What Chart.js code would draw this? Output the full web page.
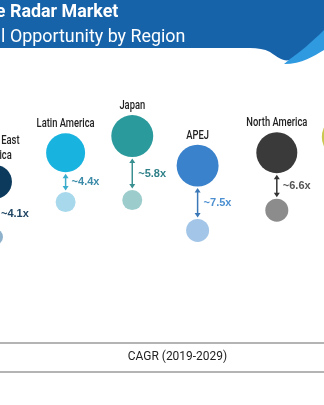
<!DOCTYPE html>
<html>
<head>
<meta charset="utf-8">
<script src="https://cdn.jsdelivr.net/npm/chart.js@4.4.1/dist/chart.umd.min.js"></script>
<style>
  html, body { margin: 0; padding: 0; background: #fff; }
  #wrap { position: relative; width: 324px; height: 405px; overflow: hidden; }
  #chart { position: absolute; left: 0; top: 0; }
  #head { position: absolute; left: 0; top: 0; }
  .title { position: absolute; left: 10px; color: #fff; white-space: nowrap; transform-origin: 0 0;
           font-family: Roboto, "Liberation Sans", sans-serif; font-size: 19px; line-height: 20px; }
  .title .cut { position: absolute; right: 100%; margin-right: 5px; }
  #t1 { top: 1px; font-weight: bold; transform: scaleX(0.94); }
  #t2 { top: 26px; transform: scaleX(0.94); }
  .rule { position: absolute; left: 0; width: 324px; height: 2px; background: #b4b4b4; }
  #axisTitle { position: absolute; left: 0; width: 355px; top: 348px; text-align: center;
               font-family: Roboto, "Liberation Sans", sans-serif; font-size: 13px; color: #222;
               transform: scaleX(0.92); transform-origin: 177px 0; }
</style>
</head>
<body>
<div id="wrap">
  <canvas id="chart" width="324" height="405"></canvas>
  <svg id="head" width="324" height="66">
    <path d="M0 0 H324 V40 C312 46 300 54 292 59 C285 63 279 58 270 52 C264 49 258 48 250 48 H0 Z" fill="#1763a9"/>
    <path d="M284 64 C302 64 314 56 324 50 V30 C312 42 300 52 290 59 Z" fill="#2f9ae0"/>
  </svg>
  <div class="title" id="t1"><span class="cut">e</span>Radar Market</div>
  <div class="title" id="t2"><span class="cut">l</span>Opportunity by Region</div>
  <div class="rule" style="top:342px"></div>
  <div id="axisTitle">CAGR (2019-2029)</div>
  <div class="rule" style="top:371px"></div>
</div>
<script>
// data
var regions = [['Middle East', '& Africa'], ['Latin America'], ['Japan'], ['APEJ'], ['North America'], ['Europe']];
var multiples = [4.1, 4.4, 5.8, 7.5, 6.6, null];
var size2029 = [72, 95, 110, 110, 105, 110];
var size2019 = [16, 25, 25, 33, 33, 25];

// layout of the infographic (in scale units)
var colX = [0, 1.07, 2.08, 3.07, 4.27, 5.27];
var rowBig = [4.49, 3.77, 3.36, 4.09, 3.77, 3.38];
var rowSmall = [5.85, 4.99, 4.94, 5.69, 5.19, 4.94];

var bigColors = ['#0c3a5c', '#19b3e0', '#2a9a9c', '#3a82cc', '#3a3a3a', '#c8c850'];
var smallColors = ['#8fb2cc', '#a8d8ec', '#9ccccc', '#a3c6e8', '#8c8c8c', '#e0e0a8'];
var arrowColors = ['#1f4563', '#3aaccc', '#3a9090', '#3a78b8', '#333333', '#999933'];
var textColors = ['#1f4563', '#3a8aa8', '#2f8088', '#4b8fd0', '#555555', '#888833'];

function radius(v) { return 2 * Math.sqrt(v); }

var bigData = regions.map(function (r, i) { return { x: colX[i], y: rowBig[i], r: radius(size2029[i]) }; });
var smallData = regions.map(function (r, i) { return { x: colX[i], y: rowSmall[i], r: radius(size2019[i]) }; });

function arrowHead(ctx, x, y, dir) {
  ctx.beginPath();
  ctx.moveTo(x, y);
  ctx.lineTo(x - 3, y + dir * 4.5);
  ctx.lineTo(x + 3, y + dir * 4.5);
  ctx.closePath();
  ctx.fill();
}

// narrow text: squeeze horizontally around x
function narrowText(ctx, text, x, y, sx) {
  ctx.save();
  ctx.translate(x, y);
  ctx.scale(sx, 1);
  ctx.fillText(text, 0, 0);
  ctx.restore();
}

var annotate = {
  id: 'annotate',
  afterDatasetsDraw: function (chart) {
    var ctx = chart.ctx;
    var big = chart.getDatasetMeta(0).data;
    var small = chart.getDatasetMeta(1).data;
    ctx.save();
    regions.forEach(function (lines, i) {
      var b = big[i], s = small[i];
      var rb = b.options.radius, rs = s.options.radius;
      // region name
      ctx.fillStyle = '#222';
      ctx.font = '500 12px Roboto, sans-serif';
      ctx.textAlign = 'center';
      ctx.textBaseline = 'middle';
      for (var k = 0; k < lines.length; k++) {
        narrowText(ctx, lines[k], b.x, b.y - rb - 9 - (lines.length - 1 - k) * 15, 0.78);
      }
      if (multiples[i] == null) return;
      // double arrow
      var y1 = b.y + rb + 1.5, y2 = s.y - rs - 1.5;
      ctx.strokeStyle = arrowColors[i];
      ctx.fillStyle = arrowColors[i];
      ctx.lineWidth = 1.5;
      ctx.beginPath();
      ctx.moveTo(b.x, y1 + 3);
      ctx.lineTo(b.x, y2 - 3);
      ctx.stroke();
      arrowHead(ctx, b.x, y1, 1);
      arrowHead(ctx, b.x, y2, -1);
      // multiple label
      ctx.fillStyle = textColors[i];
      ctx.font = 'bold 11px "Liberation Sans", Arial, sans-serif';
      ctx.textAlign = 'left';
      ctx.fillText('~' + multiples[i].toFixed(1) + 'x', b.x + 6, (y1 + y2) / 2);
    });
    ctx.restore();
  }
};

new Chart(document.getElementById('chart'), {
  type: 'bubble',
  data: {
    datasets: [
      { label: '2029', data: bigData, backgroundColor: bigColors, borderWidth: 0, clip: false },
      { label: '2019', data: smallData, backgroundColor: smallColors, borderWidth: 0, clip: false }
    ]
  },
  options: {
    responsive: false,
    animation: false,
    events: [],
    layout: { autoPadding: false, padding: 0 },
    plugins: { legend: { display: false }, tooltip: { enabled: false } },
    scales: {
      x: { type: 'linear', min: 0.076, max: 4.985, display: false },
      y: { type: 'linear', min: 0, max: 10, reverse: true, display: false }
    }
  },
  plugins: [annotate]
});
</script>
</body>
</html>
